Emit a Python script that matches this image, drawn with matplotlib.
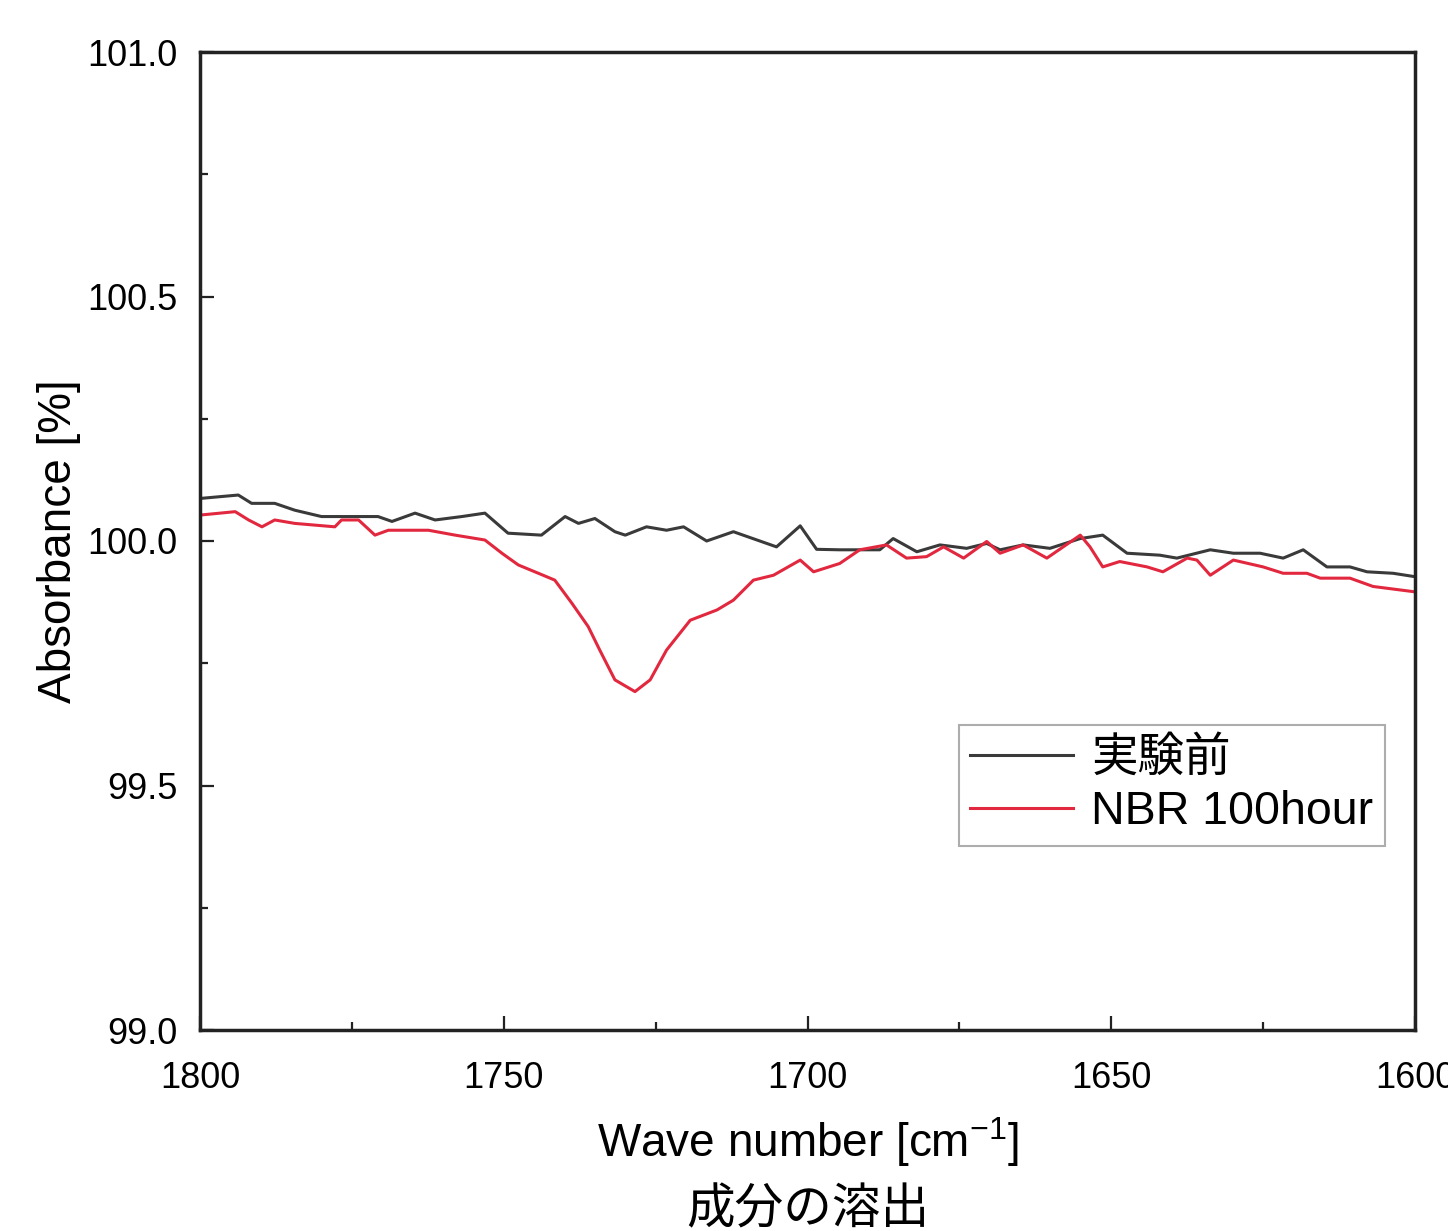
import matplotlib
matplotlib.use("Agg")
import matplotlib.pyplot as plt
from matplotlib.ticker import MultipleLocator, FormatStrFormatter

plt.rcParams['font.family'] = ['Liberation Sans', 'Noto Sans CJK JP', 'DejaVu Sans']
plt.rcParams['mathtext.fontset'] = 'custom'
plt.rcParams['mathtext.rm'] = 'Liberation Sans'
plt.rcParams['mathtext.it'] = 'Liberation Sans'

# --- data ---
wn_before = [1800.0, 1793.7, 1791.5, 1787.7, 1784.4, 1780.0, 1770.7, 1768.4, 1764.6, 1761.3,
             1756.9, 1753.1, 1749.3, 1743.8, 1739.9, 1737.7, 1735.0, 1731.7, 1730.0, 1726.5,
             1723.2, 1720.4, 1716.6, 1712.2, 1705.1, 1701.2, 1698.5, 1694.7, 1688.1, 1685.9,
             1682.0, 1678.2, 1673.8, 1670.5, 1668.3, 1664.5, 1660.1, 1655.1, 1651.4, 1647.4,
             1642.0, 1639.2, 1633.7, 1629.9, 1625.5, 1621.7, 1618.4, 1614.5, 1610.7, 1607.9,
             1603.6, 1600.0]
abs_before = [100.087, 100.094, 100.077, 100.077, 100.063, 100.050, 100.050, 100.040, 100.057, 100.043,
              100.050, 100.057, 100.016, 100.012, 100.050, 100.036, 100.046, 100.019, 100.012, 100.029,
              100.022, 100.029, 100.000, 100.019, 99.988, 100.031, 99.983, 99.982, 99.982, 100.005,
              99.978, 99.992, 99.985, 99.995, 99.982, 99.992, 99.985, 100.005, 100.012, 99.975,
              99.971, 99.965, 99.982, 99.975, 99.975, 99.965, 99.982, 99.947, 99.947, 99.937,
              99.934, 99.927]

wn_nbr = [1800.0, 1794.2, 1792.0, 1789.8, 1787.7, 1784.4, 1777.8, 1776.7, 1773.9, 1771.2,
          1769.0, 1762.4, 1758.0, 1753.1, 1750.3, 1747.6, 1744.3, 1741.6, 1738.8, 1736.1,
          1734.2, 1731.7, 1728.4, 1725.9, 1723.2, 1719.3, 1714.9, 1712.2, 1708.9, 1705.6,
          1701.2, 1699.0, 1694.7, 1691.4, 1687.0, 1683.7, 1680.4, 1677.6, 1674.3, 1670.5,
          1668.3, 1664.5, 1660.6, 1655.1, 1653.5, 1651.4, 1648.6, 1644.1, 1641.5, 1637.5,
          1635.9, 1633.7, 1629.9, 1625.0, 1621.7, 1617.8, 1615.6, 1610.7, 1606.9, 1600.0]
abs_nbr = [100.053, 100.060, 100.043, 100.029, 100.043, 100.036, 100.029, 100.043, 100.043, 100.012,
           100.022, 100.022, 100.012, 100.002, 99.975, 99.951, 99.934, 99.920, 99.873, 99.825,
           99.777, 99.716, 99.692, 99.716, 99.777, 99.838, 99.859, 99.879, 99.920, 99.930,
           99.961, 99.937, 99.954, 99.982, 99.992, 99.965, 99.968, 99.988, 99.965, 99.999,
           99.975, 99.992, 99.965, 100.012, 99.988, 99.947, 99.958, 99.947, 99.937, 99.965,
           99.961, 99.930, 99.961, 99.947, 99.934, 99.934, 99.924, 99.924, 99.907, 99.896]

labels = ['実験前', 'NBR 100hour']
x_label = 'Wave number [cm$^{-1}$]'
y_label = 'Absorbance [%]'
caption = '成分の溶出'

fig = plt.figure(figsize=(14.48, 12.31), dpi=100)
ax = fig.add_axes([200/1448, 1 - 1030/1231, 1215/1448, 978/1231])

ax.plot(wn_before, abs_before, color='#3a3a3a', lw=2.2, label=labels[0])
ax.plot(wn_nbr, abs_nbr, color='#e2283f', lw=2.2, label=labels[1])

ax.set_xlim(1800, 1600)
ax.set_ylim(99.0, 101.0)
ax.xaxis.set_major_locator(MultipleLocator(50))
ax.xaxis.set_minor_locator(MultipleLocator(25))
ax.yaxis.set_major_locator(MultipleLocator(0.5))
ax.yaxis.set_minor_locator(MultipleLocator(0.25))
ax.yaxis.set_major_formatter(FormatStrFormatter('%.1f'))
ax.xaxis.set_major_formatter(FormatStrFormatter('%d'))

ax.tick_params(which='both', direction='in', top=False, right=False, color='#222222')
ax.tick_params(which='major', length=10, width=1.6, labelsize=26)
ax.tick_params(axis='x', which='major', pad=22)
ax.tick_params(axis='y', which='major', pad=16)
ax.tick_params(which='minor', length=6, width=1.6)
for s in ax.spines.values():
    s.set_linewidth(2.5)
    s.set_color('#222222')

ax.set_xlabel(x_label, fontsize=33, labelpad=14)
ax.set_ylabel(y_label, fontsize=33, labelpad=5)

leg = ax.legend(loc='lower right', bbox_to_anchor=(1185/1215, (1030 - 846)/978),
                borderaxespad=0.0,
                fontsize=33.5, frameon=True, fancybox=False, edgecolor='#999999',
                handlelength=2.2, handletextpad=0.4, borderpad=0.25, labelspacing=0.2)
leg.get_frame().set_linewidth(1.5)

fig.text(808/1448, 1 - 1211/1231, caption, fontsize=35, ha='center', va='center')

fig.savefig('out.png', dpi=100)
